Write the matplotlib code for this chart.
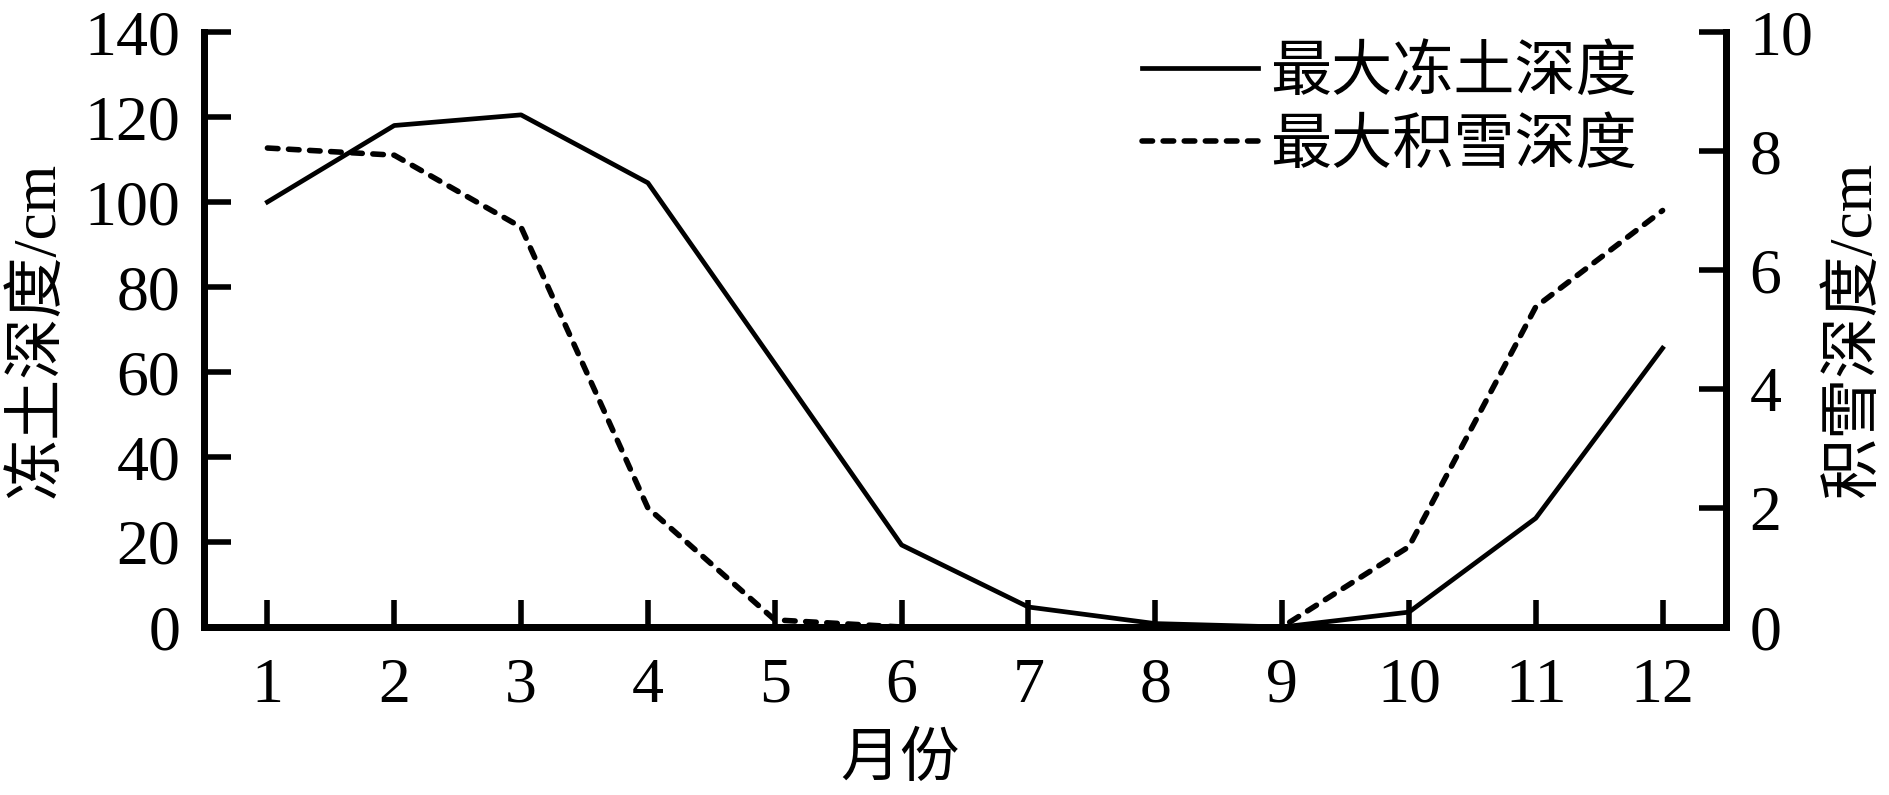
import matplotlib
matplotlib.use("Agg")
import matplotlib.pyplot as plt

plt.rcParams['font.family'] = ['Liberation Serif', 'Noto Sans CJK SC']

months = [1, 2, 3, 4, 5, 6, 7, 8, 9, 10, 11, 12]
frozen_depth = [100, 118, 120.5, 104.5, 62, 19.3, 4.7, 0.8, 0, 3.5, 25.6, 65.6]
snow_depth = [8.05, 7.93, 6.72, 2.0, 0.12, 0, 0, 0, 0, 1.35, 5.38, 7.0]
left_ticks = [0, 20, 40, 60, 80, 100, 120, 140]
right_ticks = [0, 2, 4, 6, 8, 10]

fig = plt.figure(figsize=(18.9, 7.95), dpi=100)
ax = fig.add_axes([204/1890, 1 - 627/795, (1726-204)/1890, (627-32)/795])
ax2 = ax.twinx()

l1, = ax.plot(months, frozen_depth, color='black', lw=3.4, label='最大冻土深度')
l2, = ax2.plot(months, snow_depth, color='black', lw=4.0, linestyle=(0, (1.9, 1.9)),
               dash_capstyle='round', label='最大积雪深度')

ax.set_xlim(0.5, 12.5)
ax.set_ylim(0, 140)
ax2.set_ylim(0, 10)
ax.set_xticks(months)
ax.set_yticks(left_ticks)
ax2.set_yticks(right_ticks)

for a in (ax, ax2):
    a.spines['top'].set_visible(False)
    for s in ('left', 'right', 'bottom'):
        a.spines[s].set_linewidth(5)
ax.tick_params(axis='both', direction='in', length=19.5, width=4, labelsize=46)
ax.tick_params(axis='x', pad=22)
ax.tick_params(axis='y', pad=17, left=True, right=False)
ax2.tick_params(axis='y', direction='in', length=19.5, width=4, labelsize=46, pad=17)
ax2.tick_params(axis='x', bottom=False, labelbottom=False)

ax.set_xlabel('月份', fontsize=43)
ax.xaxis.set_label_coords(0.457, -0.18)
ax.set_ylabel('冻土深度/cm', fontsize=44)
ax.yaxis.set_label_coords(-0.09, 0.5)
ax2.set_ylabel('积雪深度/cm', fontsize=44, rotation=90)
ax2.yaxis.set_label_coords(1.066, 0.5)

fig.legend(handles=[l1, l2], loc='upper left', bbox_to_anchor=(1142/1890, 1 - 46/795),
           frameon=False, fontsize=44, borderpad=0, borderaxespad=0,
           handlelength=1.9, handletextpad=0.2, labelspacing=0.26)

fig.savefig('out.png', dpi=100)
